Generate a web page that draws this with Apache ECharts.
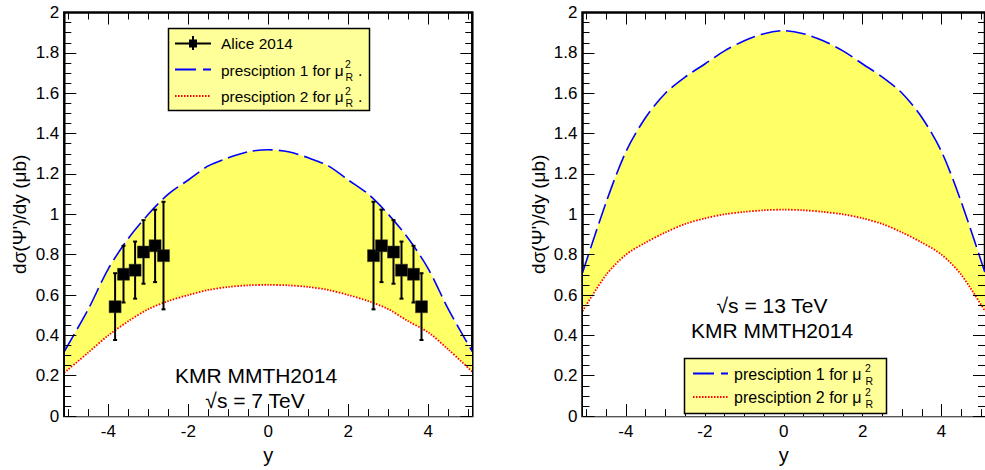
<!DOCTYPE html>
<html>
<head>
<meta charset="utf-8">
<script src="https://cdn.jsdelivr.net/npm/echarts@6/dist/echarts.min.js"></script>
<style>
  html, body { margin: 0; padding: 0; background: #fff; }
  #chart { width: 985px; height: 470px; }
</style>
</head>
<body>
<div id="chart"></div>
<script>
// Rapidity grid on which the KMR predictions are tabulated
const rapidity = [-5.1, -4.5, -4, -3.5, -3, -2.5, -2, -1.5, -1, -0.5, 0, 0.5, 1, 1.5, 2, 2.5, 3, 3.5, 4, 4.5, 5.1];

// sqrt(s) = 7 TeV, dsigma/dy in microbarn
const pres1_7TeV = [0.32, 0.53, 0.73, 0.88, 1.00, 1.10, 1.17, 1.24, 1.28, 1.31, 1.32, 1.31, 1.28, 1.24, 1.17, 1.10, 1.00, 0.88, 0.73, 0.53, 0.32];
const pres2_7TeV = [0.215, 0.315, 0.40, 0.47, 0.53, 0.57, 0.60, 0.625, 0.64, 0.648, 0.65, 0.648, 0.64, 0.625, 0.60, 0.57, 0.53, 0.47, 0.415, 0.33, 0.22];

// sqrt(s) = 13 TeV
const pres1_13TeV = [0.71, 1.06, 1.31, 1.48, 1.60, 1.68, 1.745, 1.81, 1.86, 1.895, 1.91, 1.895, 1.86, 1.81, 1.745, 1.68, 1.60, 1.48, 1.31, 1.06, 0.71];
const pres2_13TeV = [0.52, 0.70, 0.80, 0.86, 0.91, 0.952, 0.98, 1.00, 1.012, 1.02, 1.023, 1.02, 1.012, 1.00, 0.98, 0.952, 0.91, 0.86, 0.80, 0.70, 0.52];

// ALICE 2014 psi(2S) measurement
const aliceY   = [-3.83, -3.62, -3.33, -3.12, -2.83, -2.62, 2.63, 2.83, 3.13, 3.33, 3.63, 3.83];
const aliceVal = [0.542, 0.703, 0.723, 0.813, 0.844, 0.795, 0.795, 0.844, 0.813, 0.723, 0.703, 0.542];
const aliceLo  = [0.377, 0.563, 0.582, 0.656, 0.664, 0.529, 0.529, 0.664, 0.656, 0.582, 0.563, 0.377];
const aliceHi  = [0.708, 0.844, 0.865, 0.971, 1.023, 1.062, 1.062, 1.023, 0.971, 0.865, 0.844, 0.708];

// Axis ticks
const xMajorTicks = [-4, -2, 0, 2, 4];
const xMinorTicks = [-5, -4.5, -3.5, -3, -2.5, -1.5, -1, -0.5, 0.5, 1, 1.5, 2.5, 3, 3.5, 4.5, 5];
const yAxisTitle = "dσ(Ψ')/dy (μb)";

const FONT = "'Liberation Sans', Arial, Helvetica, sans-serif";
const BAND = '#ffff66';
const BLUE = '#0000ff';
const RED = '#ff0000';

const chart = echarts.init(document.getElementById('chart'), null, { renderer: 'svg' });

const pairs = (xs, ys) => xs.map((x, i) => [x, ys[i]]);

// Bottom axis (labels + major ticks), bottom minor ticks, top frame with major + minor ticks
function xAxes(grid) {
  const common = { gridIndex: grid, type: 'value', min: -5.1, max: 5.1, z: 5, splitLine: { show: false } };
  return [
    Object.assign({}, common, {
      position: 'bottom',
      name: 'y', nameLocation: 'middle', nameGap: 22,
      nameTextStyle: { fontFamily: FONT, fontSize: 20, color: '#000' },
      axisLine: { show: true, onZero: false, lineStyle: { color: '#555' } },
      axisTick: { show: true, inside: true, length: 12, customValues: xMajorTicks, lineStyle: { color: '#000' } },
      axisLabel: { show: true, customValues: xMajorTicks, margin: 7, fontFamily: FONT, fontSize: 17, color: '#000' }
    }),
    Object.assign({}, common, {
      position: 'bottom',
      axisLine: { show: false, onZero: false },
      axisTick: { show: true, inside: true, length: 7, customValues: xMinorTicks, lineStyle: { color: '#000' } },
      axisLabel: { show: false }
    }),
    Object.assign({}, common, {
      position: 'top',
      axisLine: { show: true, onZero: false, lineStyle: { color: '#000' } },
      axisTick: { show: true, inside: true, length: 12, customValues: xMajorTicks, lineStyle: { color: '#000' } },
      axisLabel: { show: false }
    }),
    Object.assign({}, common, {
      position: 'top',
      axisLine: { show: false, onZero: false },
      axisTick: { show: true, inside: true, length: 7, customValues: xMinorTicks, lineStyle: { color: '#000' } },
      axisLabel: { show: false }
    })
  ];
}

function yAxes(grid) {
  const common = {
    gridIndex: grid, type: 'value', min: 0, max: 2, interval: 0.2, z: 5,
    splitLine: { show: false },
    minorTick: { show: true, splitNumber: 4, length: 7, lineStyle: { color: '#000' } },
    axisTick: { show: true, inside: true, length: 12, lineStyle: { color: '#000' } }
  };
  return [
    Object.assign({}, common, {
      position: 'left',
      name: yAxisTitle, nameLocation: 'middle', nameGap: 35,
      nameTextStyle: { fontFamily: FONT, fontSize: 19, color: '#000' },
      axisLine: { show: true, onZero: false, lineStyle: { color: '#000' } },
      axisLabel: { show: true, margin: 5, fontFamily: FONT, fontSize: 17, color: '#000' }
    }),
    Object.assign({}, common, {
      position: 'right',
      axisLine: { show: true, onZero: false, lineStyle: { color: '#000' } },
      axisLabel: { show: false }
    })
  ];
}

// Upper prescription: dashed blue curve, yellow fill down to the axis
// Lower prescription: dotted red curve, white fill down to the axis, leaving the band between them yellow
function curveSeries(name, xAxisIndex, yAxisIndex, ys, color, dash, width, fill, z) {
  return {
    name, type: 'line', xAxisIndex, yAxisIndex, z,
    data: pairs(rapidity, ys),
    showSymbol: false, symbol: 'none', smooth: 0.3, silent: true,
    lineStyle: { color, width, type: dash },
    areaStyle: { color: fill, opacity: 1, origin: 'start' }
  };
}

const errorBars = {
  name: 'Alice 2014 errors', type: 'custom', xAxisIndex: 0, yAxisIndex: 0, z: 6,
  data: aliceY.map((x, i) => [x, aliceLo[i], aliceHi[i]]),
  encode: { x: 0, y: [1, 2] },
  renderItem: function (params, api) {
    const lo = api.coord([api.value(0), api.value(1)]);
    const hi = api.coord([api.value(0), api.value(2)]);
    const cap = 2;
    const st = { stroke: '#000', lineWidth: 2 };
    return {
      type: 'group',
      children: [
        { type: 'line', shape: { x1: lo[0], y1: lo[1], x2: hi[0], y2: hi[1] }, style: st },
        { type: 'line', shape: { x1: lo[0] - cap, y1: lo[1], x2: lo[0] + cap, y2: lo[1] }, style: st },
        { type: 'line', shape: { x1: hi[0] - cap, y1: hi[1], x2: hi[0] + cap, y2: hi[1] }, style: st }
      ]
    };
  }
};

const alicePoints = {
  name: 'Alice 2014', type: 'scatter', xAxisIndex: 0, yAxisIndex: 0, z: 7,
  data: pairs(aliceY, aliceVal),
  symbol: 'rect', symbolSize: 12,
  itemStyle: { color: '#000', opacity: 1, borderColor: '#333', borderWidth: 0.5 }
};

// Legend boxes and panel annotations
function legendBox(x, y, w, h) {
  return { type: 'rect', shape: { x, y, width: w, height: h }, style: { fill: '#ffff99', stroke: '#000', lineWidth: 1.5 }, z: 20 };
}
function txt(text, x, y, size, align) {
  return {
    type: 'text', z: 21,
    style: { text, x, y, fontFamily: FONT, fontSize: size, fill: '#000', align: align || 'left', verticalAlign: 'middle' }
  };
}
function seg(x1, y1, x2, y2, color, width, dash) {
  return { type: 'line', z: 21, shape: { x1, y1, x2, y2 }, style: { stroke: color, lineWidth: width, lineDash: dash || null } };
}
function muR(x, y, withDot) {
  const items = [txt('2', x, y - 6, 10.5), txt('R', x + 0.5, y + 6.5, 10.5)];
  if (withDot) items.push(txt('.', x + 13, y, 16));
  return items;
}

const graphics = [
  // left legend
  legendBox(168.5, 28.5, 201, 82),
  seg(175, 43.5, 211, 43.5, '#000', 2),
  seg(193, 36, 193, 50, '#000', 2),
  { type: 'rect', z: 22, shape: { x: 189, y: 39.5, width: 8, height: 8 }, style: { fill: '#000' } },
  txt('Alice 2014', 221, 43.5, 15.4),
  seg(175, 69.5, 211, 69.5, BLUE, 1.8, [21, 7]),
  txt('presciption 1 for μ', 221, 70, 15.4),
  ...muR(345, 70, true),
  seg(175, 96, 211, 96, RED, 1.8, [1.5, 1.5]),
  txt('presciption 2 for μ', 221, 96.5, 15.4),
  ...muR(345, 96.5, true),
  // left annotation
  txt('KMR MMTH2014', 256, 375, 21, 'center'),
  txt('√s = 7 TeV', 255, 400, 21, 'center'),
  // right legend
  legendBox(684.5, 358.5, 202, 55),
  seg(693, 373.5, 728, 373.5, BLUE, 1.8, [21, 7]),
  txt('presciption 1 for μ', 734, 374, 16),
  ...muR(865, 374, false),
  seg(693, 397, 728, 397, RED, 1.8, [1.5, 1.5]),
  txt('presciption 2 for μ', 734, 397.5, 16),
  ...muR(865, 397.5, false),
  // right annotation
  txt('√s = 13 TeV', 772, 305, 21, 'center'),
  txt('KMR MMTH2014', 772, 330, 21, 'center')
];

// Heavy frame round each panel
const frame = { show: true, backgroundColor: 'transparent', borderColor: '#000', borderWidth: 2.5 };

chart.setOption({
  animation: false,
  backgroundColor: '#fff',
  grid: [
    Object.assign({ left: 64.3, top: 12.5, width: 408, height: 412.5 }, frame),
    Object.assign({ left: 582.5, top: 12.5, width: 406.4, height: 412.5 }, frame)
  ],
  xAxis: [...xAxes(0), ...xAxes(1)],
  yAxis: [...yAxes(0), ...yAxes(1)],
  series: [
    curveSeries('presciption 1 (7 TeV)', 0, 0, pres1_7TeV, BLUE, [20, 6], 1.6, BAND, 2),
    curveSeries('presciption 2 (7 TeV)', 0, 0, pres2_7TeV, RED, [1.5, 1.5], 1.8, '#ffffff', 3),
    errorBars,
    alicePoints,
    curveSeries('presciption 1 (13 TeV)', 4, 2, pres1_13TeV, BLUE, [20, 6], 1.6, BAND, 2),
    curveSeries('presciption 2 (13 TeV)', 4, 2, pres2_13TeV, RED, [1.5, 1.5], 1.8, '#ffffff', 3)
  ],
  graphic: graphics
});
</script>
</body>
</html>
